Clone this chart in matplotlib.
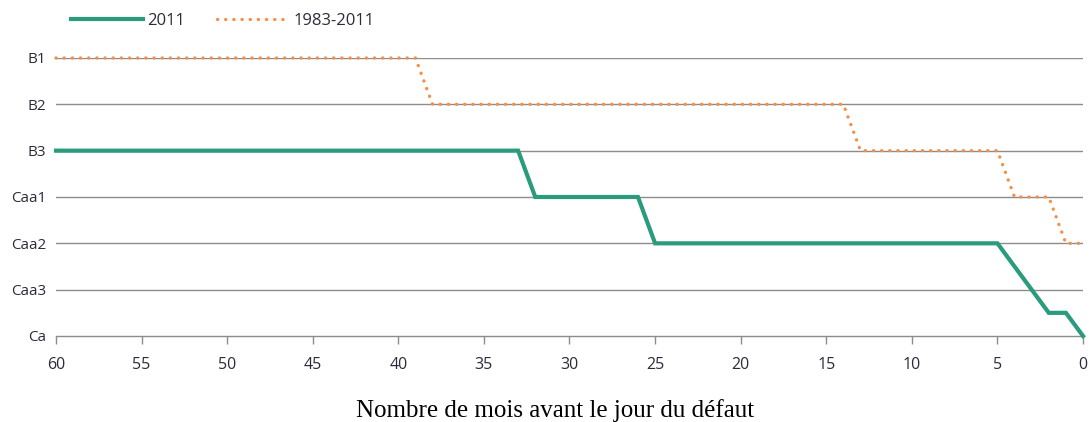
import numpy as np
import matplotlib
matplotlib.use("Agg")
import matplotlib.pyplot as plt

# Rating scale (top to bottom)
ratings = ["B1", "B2", "B3", "Caa1", "Caa2", "Caa3", "Ca"]

# Months before default vs. rating level (0 = B1 ... 6 = Ca)
months_2011 = [60, 33, 32, 26, 25, 5, 4, 2, 1, 0]
level_2011 = [2, 2, 3, 3, 4, 4, 4.5, 5.5, 5.5, 6]

months_hist = [60, 39, 38, 14, 13, 5, 4, 2, 1, 0]
level_hist = [0, 0, 1, 1, 2, 2, 3, 3, 4, 4]

x_ticks = list(range(60, -1, -5))

GREEN = "#2A9B7C"
ORANGE = "#F58F45"
GRID = "#8C8C8C"
TXT = "#2B2B3A"

plt.rcParams["font.family"] = ["Open Sans", "DejaVu Sans"]

fig = plt.figure(figsize=(10.89, 4.22), dpi=100)
ax = fig.add_axes([0.0514, 0.2038, 0.9431, 0.6588])

for i in range(len(ratings) - 1):
    ax.axhline(i, color=GRID, lw=1.0, zorder=1)

ax.plot(months_2011, level_2011, color=GREEN, lw=3.0, solid_joinstyle="miter",
        label="2011", zorder=3, clip_on=False)
ax.plot(months_hist, level_hist, color=ORANGE, lw=2.4, linestyle=(0, (0.05, 2.4)),
        dash_capstyle="round", label="1983-2011", zorder=3, clip_on=False)

ax.set_xlim(60, 0)
ax.set_ylim(6, 0)
ax.set_xticks(x_ticks)
ax.set_xticklabels([str(t) for t in x_ticks])
ax.set_yticks(range(len(ratings)))
ax.set_yticklabels(ratings)

for s in ["top", "right", "left"]:
    ax.spines[s].set_visible(False)
ax.spines["bottom"].set_color(GRID)
ax.spines["bottom"].set_linewidth(1.0)

ax.tick_params(axis="x", colors=GRID, length=6, width=1.0, labelcolor=TXT,
               labelsize=11.5, pad=9)
ax.tick_params(axis="y", length=0, labelcolor=TXT, labelsize=11, pad=7)

fig.text(0.51, 0.0, "Nombre de mois avant le jour du défaut",
         ha="center", va="bottom", fontsize=18, family="Liberation Serif",
         color="black")

leg = ax.legend(loc="lower left", bbox_to_anchor=(0.008, 1.08), ncol=2, frameon=False,
                fontsize=12, handlelength=4.3, columnspacing=1.9, handletextpad=0.3,
                borderaxespad=0, labelcolor=TXT)

fig.savefig("out.png", dpi=100)
